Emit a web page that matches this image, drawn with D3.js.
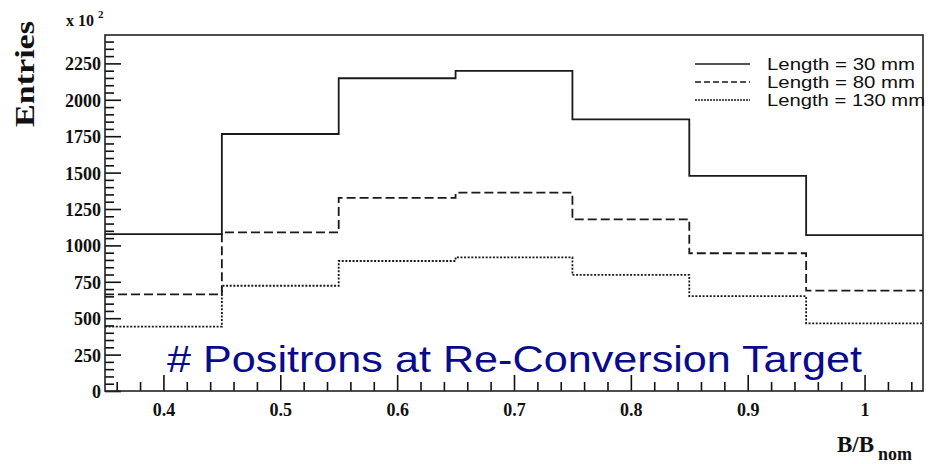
<!DOCTYPE html>
<html>
<head>
<meta charset="utf-8">
<script src="https://cdn.jsdelivr.net/npm/d3@7"></script>
<style>
  html, body { margin: 0; padding: 0; background: #fff; }
  svg { display: block; }
</style>
</head>
<body>
<svg id="chart" width="928" height="464"></svg>
<script>
// ---- data (values in units of 10^2 entries) ----
const binEdges = [0.35, 0.45, 0.55, 0.65, 0.75, 0.85, 0.95, 1.05];
const seriesNames = ["Length = 30 mm", "Length = 80 mm", "Length = 130 mm"];
const len30  = [1078, 1765, 2148, 2198, 1866, 1477, 1071];
const len80  = [664, 1090, 1326, 1362, 1179, 946, 689];
const len130 = [442, 723, 893, 918, 797, 652, 465];
const xTicks = [0.4, 0.5, 0.6, 0.7, 0.8, 0.9, 1.0];
const xTickLabels = ["0.4", "0.5", "0.6", "0.7", "0.8", "0.9", "1"];
const yTicks = [0, 250, 500, 750, 1000, 1250, 1500, 1750, 2000, 2250];
const yTickLabels = ["0", "250", "500", "750", "1000", "1250", "1500", "1750", "2000", "2250"];

const svg = d3.select("#chart");
const L = 105, R = 923, T = 35, B = 391;
const x = d3.scaleLinear().domain([0.35, 1.05]).range([L, R]);
const y = d3.scaleLinear().domain([0, 2445]).range([B, T]);

const serif = "'Liberation Serif', 'Times New Roman', serif";
const sans = "'Liberation Sans', Arial, Helvetica, sans-serif";
const ink = "#111";

// minor ticks
const xMinor = d3.range(0.36, 1.0501, 0.02).filter(v => !xTicks.some(t => Math.abs(t - v) < 1e-6));
const yMinor = d3.range(0, 2445, 50).filter(v => v % 250 !== 0);

const gx = svg.append("g").attr("transform", `translate(0,${B})`);
gx.call(d3.axisBottom(x).tickValues(xMinor).tickSizeInner(-9).tickSizeOuter(0).tickFormat(""));
gx.call(g => g.select(".domain").remove());
const gx2 = svg.append("g").attr("transform", `translate(0,${B})`);
gx2.call(d3.axisBottom(x).tickValues(xTicks).tickSizeInner(-16).tickSizeOuter(0).tickPadding(12)
  .tickFormat((d, i) => xTickLabels[i]));
gx2.call(g => g.select(".domain").remove());
gx2.selectAll("text").attr("font-family", serif).attr("font-weight", "bold").attr("font-size", 18).attr("fill", ink);

const gy = svg.append("g").attr("transform", `translate(${L},0)`);
gy.call(d3.axisLeft(y).tickValues(yMinor).tickSizeInner(-9).tickSizeOuter(0).tickFormat(""));
gy.call(g => g.select(".domain").remove());
const gy2 = svg.append("g").attr("transform", `translate(${L},0)`);
gy2.call(d3.axisLeft(y).tickValues(yTicks).tickSizeInner(-16).tickSizeOuter(0).tickPadding(4)
  .tickFormat((d, i) => yTickLabels[i]));
gy2.call(g => g.select(".domain").remove());
gy2.selectAll("text").attr("font-family", serif).attr("font-weight", "bold").attr("font-size", 18)
  .attr("fill", ink).attr("dy", "0.36em");
svg.selectAll(".tick line").attr("stroke", ink).attr("stroke-width", 1.6);

// frame
svg.append("rect").attr("x", L).attr("y", T).attr("width", R - L).attr("height", B - T)
  .attr("fill", "none").attr("stroke", "#222").attr("stroke-width", 1.6);

// histograms
const dashes = ["none", "9,4", "2,1.6"];
const allSeries = [len30, len80, len130];
const line = d3.line().x(d => x(d[0])).y(d => y(d[1])).curve(d3.curveStepAfter);
allSeries.forEach((vals, si) => {
  const pts = vals.map((v, i) => [binEdges[i], v]);
  pts.push([binEdges[vals.length], vals[vals.length - 1]]);
  svg.append("path").datum(pts).attr("d", line)
    .attr("fill", "none").attr("stroke", "#1a1a1a").attr("stroke-width", 1.8)
    .attr("stroke-dasharray", dashes[si]);
});

// legend
const legY = [64, 82, 100];
const legW = [148, 148, 158];
seriesNames.forEach((name, i) => {
  svg.append("line").attr("x1", 695).attr("x2", 750).attr("y1", legY[i]).attr("y2", legY[i])
    .attr("stroke", "#1a1a1a").attr("stroke-width", 1.4).attr("stroke-dasharray", dashes[i] === "none" ? null : (i === 1 ? "6,3" : "2,1"));
  svg.append("text").attr("x", 767).attr("y", legY[i]).attr("dy", "0.36em")
    .attr("font-family", sans).attr("font-size", 16.5).attr("fill", ink)
    .attr("textLength", legW[i]).attr("lengthAdjust", "spacingAndGlyphs")
    .text(name);
});

// title inside plot
svg.append("text").attr("x", 167).attr("y", 372)
  .attr("font-family", sans).attr("font-size", 36).attr("fill", "#0a0a8c")
  .attr("textLength", 695).attr("lengthAdjust", "spacingAndGlyphs")
  .text("# Positrons at Re-Conversion Target");

// y axis title
svg.append("text").attr("transform", "translate(34,74) rotate(-90)")
  .attr("text-anchor", "middle").attr("font-family", serif).attr("font-weight", "bold")
  .attr("font-size", 28).attr("fill", ink)
  .attr("textLength", 106).attr("lengthAdjust", "spacingAndGlyphs").text("Entries");

// exponent label
const ex = svg.append("text").attr("x", 66).attr("y", 26).attr("font-family", serif)
  .attr("font-weight", "bold").attr("font-size", 16).attr("fill", ink);
ex.append("tspan").text("x 10 ");
ex.append("tspan").attr("font-size", 11).attr("dy", -8).text("2");

// x axis title
const xt = svg.append("text").attr("x", 837).attr("y", 452).attr("font-family", serif)
  .attr("font-weight", "bold").attr("font-size", 23).attr("fill", ink);
xt.append("tspan").text("B/B");
xt.append("tspan").attr("font-size", 18).attr("dx", 4).attr("dy", 8).text("nom");
</script>
</body>
</html>
